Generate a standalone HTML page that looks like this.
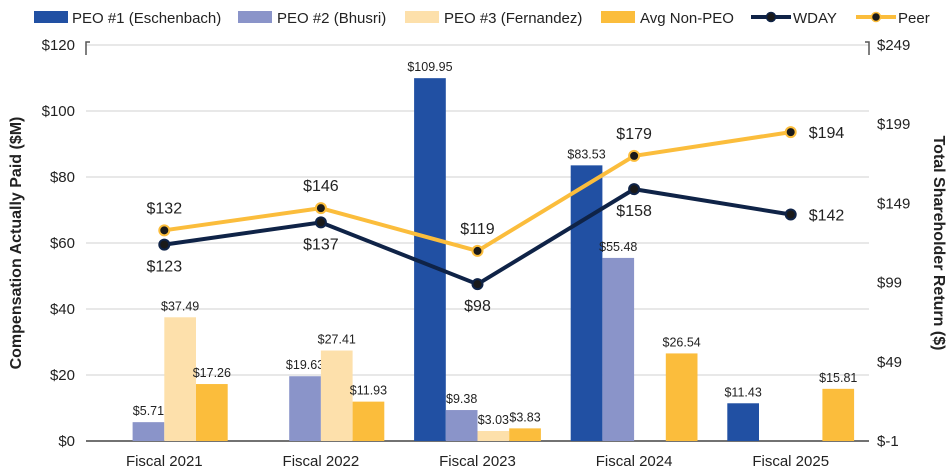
<!DOCTYPE html>
<html><head><meta charset="utf-8"><style>
body{margin:0;background:#fff;}
svg{display:block;font-family:"Liberation Sans",sans-serif;}
</style></head><body>
<svg id="chart" width="950" height="473"></svg>
<script>
const categories=["Fiscal 2021","Fiscal 2022","Fiscal 2023","Fiscal 2024","Fiscal 2025"];
const peo1=[null,null,109.95,83.53,11.43];
const peo2=[5.71,19.63,9.38,55.48,null];
const peo3=[37.49,27.41,3.03,null,null];
const avgNonPeo=[17.26,11.93,3.83,26.54,15.81];
const wday=[123,137,98,158,142];
const peer=[132,146,119,179,194];
const leftTicks=[0,20,40,60,80,100,120];
const rightTicks=[-1,49,99,149,199,249];

const svg=document.getElementById('chart');
const NS='http://www.w3.org/2000/svg';
const X0=86,X1=869,Y0=441,Y1=45;
const step=(X1-X0)/categories.length;
const xc=i=>X0+step*(i+0.5);
const yL=v=>Y0-(v/120)*(Y0-Y1);
const yR=v=>Y0-((v+1)/250)*(Y0-Y1);
function mk(tag,attrs,parent){const e=document.createElementNS(NS,tag);for(const k in attrs)e.setAttribute(k,attrs[k]);(parent||svg).appendChild(e);return e;}
function txt(s,x,y,attrs,parent){const t=mk('text',Object.assign({x:x,y:y},attrs),parent);t.textContent=s;return t;}

// grid
leftTicks.forEach(v=>{
  const l=mk('line',{x1:X0,x2:X1,y1:yL(v),y2:yL(v),stroke:v===0?'#444':'#d9d9d9','stroke-width':v===0?1.5:1.2});
  
  
  const t=txt('$'+v,75,yL(v)+5,{'text-anchor':'end','font-size':15,fill:'#222'});
  
  
});
rightTicks.forEach(v=>{
  const t=txt('$'+v,877,yR(v)+5,{'text-anchor':'start','font-size':15,fill:'#222'});
  
  
});
mk('path',{d:`M${X0+4} ${Y1-3} L${X0} ${Y1-3} L${X0} ${Y1+10}`,stroke:'#555',fill:'none','stroke-width':1.5});
mk('path',{d:`M${X1-4} ${Y1-3} L${X1} ${Y1-3} L${X1} ${Y1+10}`,stroke:'#555',fill:'none','stroke-width':1.5});

// bars
const series=[[peo1,'#2150a3','peo1'],[peo2,'#8a94c9','peo2'],[peo3,'#fde0ab','peo3'],[avgNonPeo,'#fbbd3c','avg-non-peo']];
const bw=31.7;
categories.forEach((c,i)=>{
  series.forEach((s,j)=>{
    const v=s[0][i]; if(v==null)return;
    const x=xc(i)+(j-2)*bw;
    const r=mk('rect',{x:x,y:yL(v),width:bw,height:Y0-yL(v),fill:s[1]});
    
    
    const t=txt('$'+v.toFixed(2),x+bw/2,yL(v)-7,{'text-anchor':'middle','font-size':12.5,fill:'#222'});
    
    
  });
  const t=txt(c,xc(i),466,{'text-anchor':'middle','font-size':15,fill:'#222'});
  
  
});

// lines
function line(data,color,name,labelAbove){
  const p=mk('polyline',{points:data.map((v,i)=>xc(i)+','+yR(v)).join(' '),fill:'none',stroke:color,'stroke-width':4});
  
  
  data.forEach((v,i)=>{
    const c=mk('circle',{cx:xc(i),cy:yR(v),r:5,fill:'#1a1a1a',stroke:color,'stroke-width':2});
    
    
    let lx=xc(i),ly=labelAbove?yR(v)-17:yR(v)+27,anc='middle';
    if(i===4){lx=xc(i)+18;ly=yR(v)+6;anc='start';}
    const t=txt('$'+v,lx,ly,{'text-anchor':anc,'font-size':16,fill:'#222'});
    
    
  });
}
line(wday,'#0f2347','wday',false);
line(peer,'#fbbd3c','peer',true);

// axis titles
const lt=txt('Compensation Actually Paid ($M)',0,0,{'font-size':16,'font-weight':'bold',fill:'#222','text-anchor':'middle',transform:'translate(21,243) rotate(-90)'});


const rt=txt('Total Shareholder Return ($)',0,0,{'font-size':16,'font-weight':'bold',fill:'#222','text-anchor':'middle',transform:'translate(934,243) rotate(90)'});



// legend
const leg=[['PEO #1 (Eschenbach)','#2150a3','bar',34,72],['PEO #2 (Bhusri)','#8a94c9','bar',238,277],['PEO #3 (Fernandez)','#fde0ab','bar',405,444],['Avg Non-PEO','#fbbd3c','bar',601,640],['WDAY','#0f2347','line',751,793],['Peer','#fbbd3c','line',856,898]];
leg.forEach(l=>{
  const g=mk('g',{});
  
  
  if(l[2]==='bar') mk('rect',{x:l[3],y:11,width:34,height:12,fill:l[1]},g);
  else{mk('line',{x1:l[3],x2:l[3]+40,y1:17,y2:17,stroke:l[1],'stroke-width':4},g);mk('circle',{cx:l[3]+20,cy:17,r:4.5,fill:'#1a1a1a',stroke:l[1],'stroke-width':1.5},g);}
  txt(l[0],l[4],23,{'font-size':15,fill:'#222',textLength:null},g);
});
</script>
</body></html>
